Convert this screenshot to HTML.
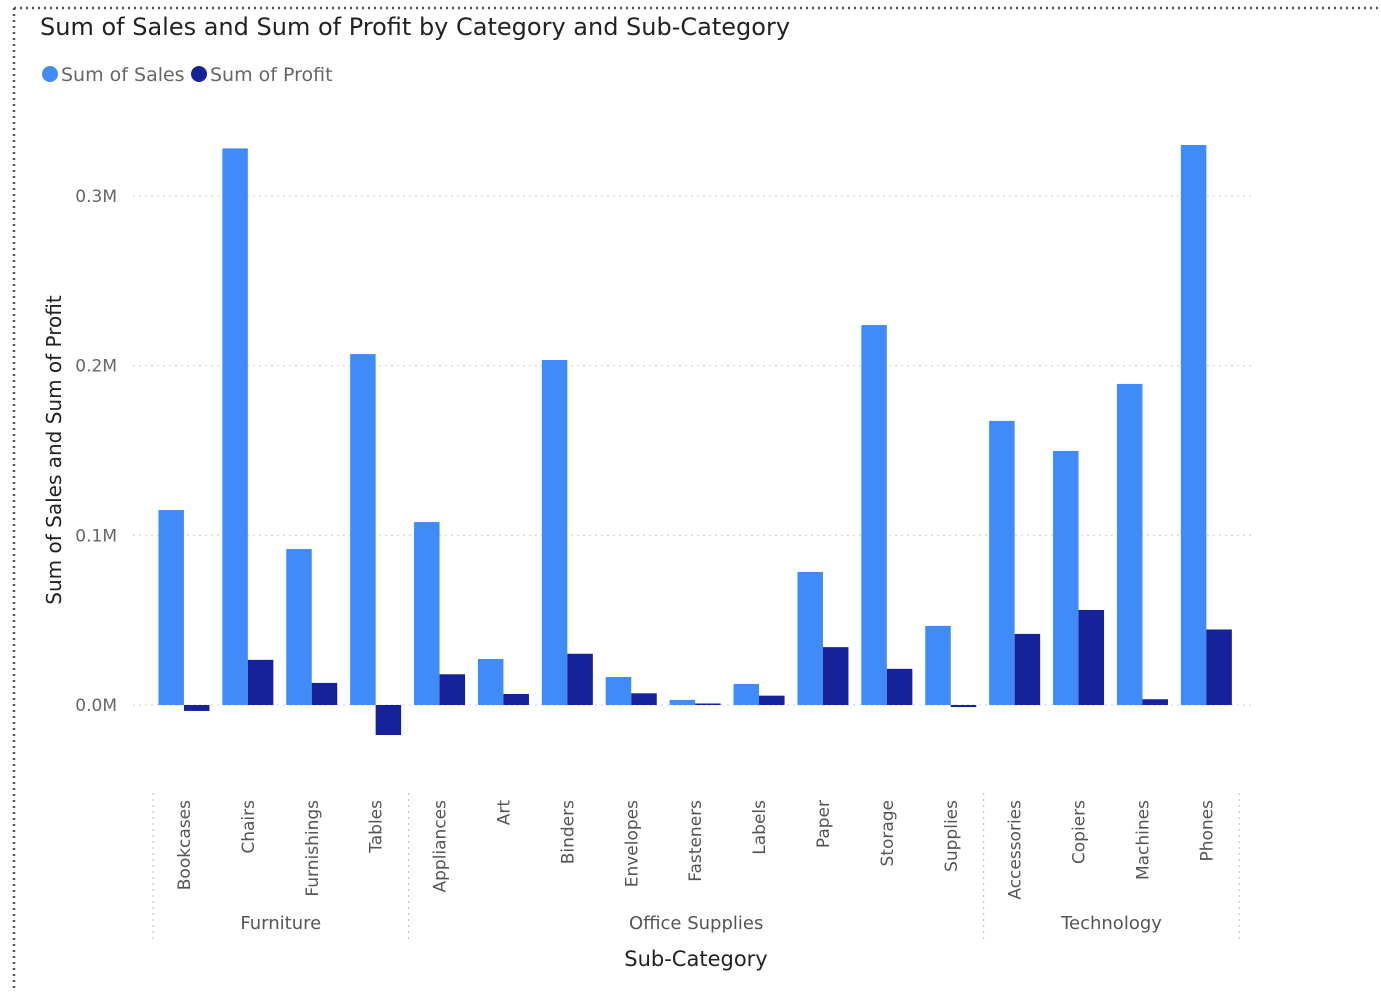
<!DOCTYPE html>
<html><head><meta charset="utf-8"><style>
html,body{margin:0;padding:0;background:#fff;}
body{width:1381px;height:990px;overflow:hidden;font-family:"Liberation Sans","DejaVu Sans",sans-serif;}
</style></head><body>
<svg id="chart" width="1381" height="990" xmlns="http://www.w3.org/2000/svg" font-family="'Segoe UI','DejaVu Sans','Liberation Sans',sans-serif">
<line x1="14" y1="8" x2="1381" y2="8" stroke="#555" stroke-width="2.5" stroke-dasharray="2,4"/>
<line x1="14" y1="8" x2="14" y2="990" stroke="#555" stroke-width="2.5" stroke-dasharray="2,4"/>
<text x="40" y="35" font-size="24" fill="#222">Sum of Sales and Sum of Profit by Category and Sub-Category</text>
<g>
<circle cx="50" cy="74" r="8" fill="#418bf8"/>
<text x="61" y="81" font-size="19" fill="#666">Sum of Sales</text>
<circle cx="199" cy="74" r="8" fill="#15229a"/>
<text x="210" y="81" font-size="19" fill="#666">Sum of Profit</text>
</g>
<text transform="translate(61,450) rotate(-90)" text-anchor="middle" font-size="20" fill="#222">Sum of Sales and Sum of Profit</text>
<text x="696" y="966" text-anchor="middle" font-size="21" fill="#222">Sub-Category</text>
<g id="grid"></g><g id="bars"></g><g id="xaxis"></g>
</svg>
<script>
const subCategories=["Bookcases","Chairs","Furnishings","Tables","Appliances","Art","Binders","Envelopes","Fasteners","Labels","Paper","Storage","Supplies","Accessories","Copiers","Machines","Phones"];
const sales=[114900,328000,91900,206800,107800,27100,203300,16500,3000,12400,78400,223900,46600,167400,149700,189200,330000];
const profit=[-3500,26600,13000,-17700,18100,6500,30200,6900,900,5500,34100,21300,-1200,41900,56000,3400,44500];
const categories=["Furniture","Office Supplies","Technology"];
const categoryCounts=[4,9,4];
const yTicks=[0,100000,200000,300000];
const yTickLabels=["0.0M","0.1M","0.2M","0.3M"];

const NS="http://www.w3.org/2000/svg";
const y0=705, pxPer=169.7/100000;
function yScale(v){return y0-v*pxPer;}
const xStart=153, band=63.9;
function xBand(i){return xStart+i*band;}
function mk(tag,attrs,parent){const e=document.createElementNS(NS,tag);for(const k in attrs)e.setAttribute(k,attrs[k]);parent.appendChild(e);return e;}
const grid=document.getElementById('grid'),bars=document.getElementById('bars'),xa=document.getElementById('xaxis');
yTicks.forEach((t,i)=>{
 const l=mk('line',{x1:133,x2:1255,y1:yScale(t),y2:yScale(t),stroke:'#ccc','stroke-dasharray':'2,4'},grid);
 
 
 const tx=mk('text',{x:117,y:yScale(t)+6,'text-anchor':'end','font-size':'17',fill:'#666'},grid);
 tx.textContent=yTickLabels[i];
 
 
});
const bw=25.5;
subCategories.forEach((c,i)=>{
 const xc=xBand(i)+band/2-1;
 const s=sales[i], p=profit[i];
 const r1=mk('rect',{x:xc-bw,y:Math.min(yScale(s),y0),width:bw,height:Math.abs(yScale(s)-y0),fill:'#418bf8'},bars);
 
 
 const r2=mk('rect',{x:xc,y:Math.min(yScale(p),y0),width:bw,height:Math.abs(yScale(p)-y0),fill:'#15229a'},bars);
 
 
 const t=mk('text',{transform:'translate('+(xc+6)+',800) rotate(-90)','text-anchor':'end','font-size':'17',fill:'#555'},xa);
 t.textContent=c;
 
 
});
let idx=0;
const sep=[xStart];
categories.forEach((c,k)=>{
 const a=xBand(idx), b=xBand(idx+categoryCounts[k]);
 idx+=categoryCounts[k]; sep.push(b);
 const t=mk('text',{x:(a+b)/2,y:929,'text-anchor':'middle','font-size':'18',fill:'#555'},xa);
 t.textContent=c;
 
 
});
sep.forEach(x=>{
 const l=mk('line',{x1:x,x2:x,y1:793,y2:940,stroke:'#bbb','stroke-dasharray':'2,4'},xa);
 
 
});
</script>
</body></html>
